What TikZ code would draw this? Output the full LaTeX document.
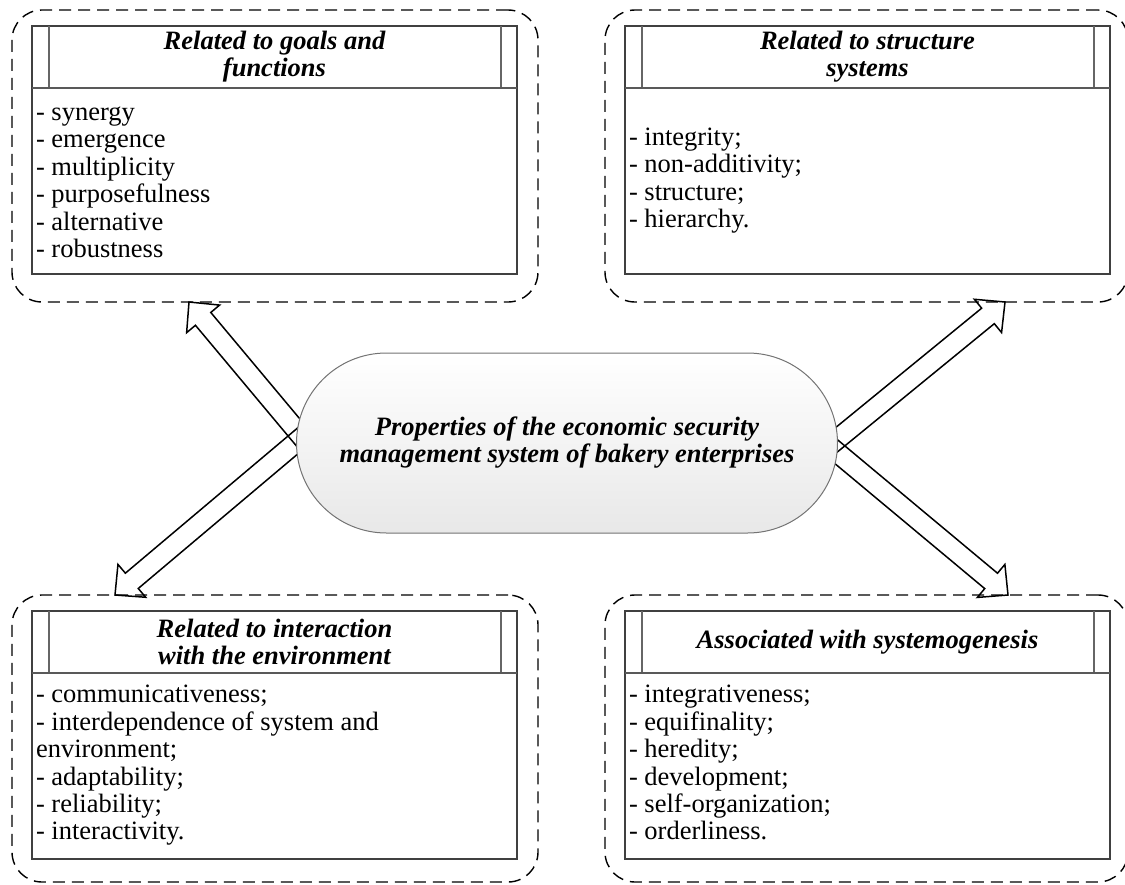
\documentclass[tikz,border=0pt]{standalone}
\usepackage{fontspec}
\setmainfont{Liberation Serif}
\usetikzlibrary{calc, positioning, shapes.misc, backgrounds}

\newcommand{\listsize}{\fontsize{26.5}{27.4}\selectfont}
\newcommand{\headsize}{\fontsize{26.5}{27}\selectfont\bfseries\itshape}
\newcommand{\coresize}{\fontsize{26.5}{27}\selectfont\bfseries\itshape}

% outlined block arrow from #1 (tail) to #2 (tip)
\newcommand{\blockarrow}[2]{%
  \coordinate (ba) at ($(#2)!22pt!(#1)$);
  \draw[fatarrow] ($(#1)!10pt!90:(#2)$) -- ($(ba)!10pt!90:(#2)$) -- ($(ba)!21.5pt!90:(#2)$) -- (#2)
    -- ($(ba)!21.5pt!-90:(#2)$) -- ($(ba)!10pt!-90:(#2)$) -- ($(#1)!10pt!-90:(#2)$) -- cycle;
}

\begin{document}
\begin{tikzpicture}[
  x=1pt, y=-1pt,
  every node/.style={inner sep=0pt, outer sep=0pt},
  groupframe/.style={draw, line width=1.4pt, dash pattern=on 12pt off 7pt, rounded corners=30pt, minimum width=526pt, minimum height=292pt, anchor=north west},
  innerbox/.style={draw=black!75, line width=1.2pt, minimum width=485pt, minimum height=248pt, anchor=north west},
  headbox/.style={draw=black!75, line width=1.2pt, minimum width=485pt, minimum height=62pt, anchor=north west, align=center, font=\headsize},
  headbar/.style={draw=black!60, line width=1.2pt},
  headrule/.style={draw=black!65, line width=2.2pt},
  itemlist/.style={align=left, font=\listsize},
  corebox/.style={rounded rectangle, draw=black!55, line width=1pt, top color=white, bottom color=black!9, minimum width=541pt, minimum height=180pt, align=center, font=\coresize},
  fatarrow/.style={draw, line width=1.5pt, line join=miter},
]

\useasboundingbox (0,0) rectangle (1125,884);

% Dashed frames
\node[groupframe] (gfgroup) at (12,10) {};
\node[groupframe, minimum width=523pt] (ssgroup) at (605,10) {};
\node[groupframe, minimum height=287pt] (iegroup) at (12,595) {};
\node[groupframe, minimum width=523pt, minimum height=287pt] (sggroup) at (605,595) {};

% Inner boxes
\node[innerbox] (gfbox) at (32,26) {};
\node[innerbox] (ssbox) at (625,26) {};
\node[innerbox] (iebox) at (32,611) {};
\node[innerbox] (sgbox) at (625,611) {};

% Headers
\node[headbox] (gfhead) at (gfbox.north west) {Related to goals and\\functions};
\node[headbox] (sshead) at (ssbox.north west) {Related to structure\\systems};
\node[headbox] (iehead) at (iebox.north west) {Related to interaction\\with the environment};
\node[headbox] (sghead) at (sgbox.north west) {Associated with systemogenesis};

\foreach \h in {gfhead, sshead, iehead, sghead} {
  \draw[headbar] ([xshift=17pt]\h.north west) -- ([xshift=17pt]\h.south west);
  \draw[headbar] ([xshift=-16pt]\h.north east) -- ([xshift=-16pt]\h.south east);
  \draw[headrule] (\h.south west) -- (\h.south east);
}

% Property lists
\node[itemlist, below right=13.4pt and 4pt of gfhead.south west] (gflist)
  {\strut- synergy\\- emergence\\- multiplicity\\- purposefulness\\- alternative\\- robustness};
\node[itemlist, below right=38.3pt and 4pt of sshead.south west] (sslist)
  {\strut- integrity;\\- non-additivity;\\- structure;\\- hierarchy.};
\node[itemlist, below right=10.7pt and 4pt of iehead.south west] (ielist)
  {\strut- communicativeness;\\- interdependence of system and\\environment;\\- adaptability;\\- reliability;\\- interactivity.};
\node[itemlist, below right=10.7pt and 4pt of sghead.south west] (sglist)
  {\strut- integrativeness;\\- equifinality;\\- heredity;\\- development;\\- self-organization;\\- orderliness.};

% Centre
\node[corebox] (core) at (567,443) {Properties of the economic security\\management system of bakery enterprises};

% Arrow ends
\coordinate (gftip) at ([xshift=177pt]gfgroup.south west);
\coordinate (sstip) at ([xshift=400pt]ssgroup.south west);
\coordinate (ietip) at ([xshift=103pt]iegroup.north west);
\coordinate (sgtip) at ([xshift=403pt]sggroup.north west);
\coordinate (gftail) at ([xshift=13pt, yshift=-3pt]core.west);
\coordinate (ietail) at ([xshift=13pt, yshift=12pt]core.west);
\coordinate (sstail) at ([xshift=-13.5pt, yshift=-7pt]core.east);
\coordinate (sgtail) at ([xshift=-16.5pt, yshift=4pt]core.east);

% Arrows
\begin{scope}[on background layer]
  \blockarrow{gftail}{gftip}
  \blockarrow{ietail}{ietip}
  \blockarrow{sstail}{sstip}
  \blockarrow{sgtail}{sgtip}
\end{scope}

\end{tikzpicture}
\end{document}
